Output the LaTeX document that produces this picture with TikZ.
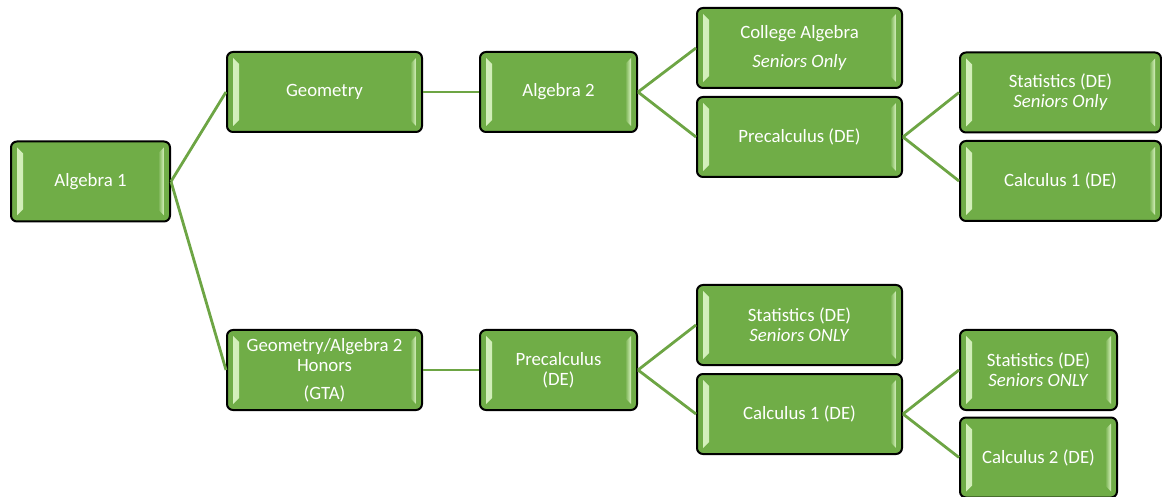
\documentclass[tikz,border=0pt]{standalone}
\usepackage{fontspec}
\setmainfont{Carlito}
\usepackage{tikz}
\definecolor{boxgreen}{HTML}{70AD47}
\definecolor{bevelgreen}{HTML}{D8F2C0}
\definecolor{linkgreen}{HTML}{6DA544}

\begin{document}
\begin{tikzpicture}[x=0.5pt, y=-0.5pt,
        course/.style={draw=black, line width=1pt, fill=boxgreen, rounded corners=3pt,
            minimum height=40pt, inner sep=2pt, text=white, align=center,
            font=\fontsize{9.4}{10}\selectfont,
            path picture={
                \fill[left color=bevelgreen, right color=boxgreen, rounded corners=0pt]
                    ([xshift=3pt,yshift=-3pt]path picture bounding box.north west) -- ++(3pt,-3pt)
                    -- ([xshift=6pt,yshift=6pt]path picture bounding box.south west) -- ++(-3pt,-3pt) -- cycle;
                \fill[right color=bevelgreen, left color=boxgreen, rounded corners=0pt]
                    ([xshift=-3pt,yshift=-3pt]path picture bounding box.north east) -- ++(-3pt,-3pt)
                    -- ([xshift=-6pt,yshift=6pt]path picture bounding box.south east) -- ++(3pt,-3pt) -- cycle;
            }},
        link/.style={draw=linkgreen, line width=1.4pt}]
        \useasboundingbox (0,0) rectangle (1162,497);

        % first column
        \node [course, minimum width=79.5pt] (alg1) at (90.5,181.5) {Algebra 1};

        % upper track
        \node [course, minimum width=97.5pt] (geo) at (324.5,92) {Geometry};
        \node [course, minimum width=78.5pt] (algtwo) at (558.5,92) {Algebra 2};
        \node [course, minimum width=102.5pt] (colalg) at (799.5,48) {College Algebra\\[4.5pt] \textit{Seniors Only}};
        \node [course, minimum width=102.5pt] (precalcA) at (799.5,137) {Precalculus (DE)};
        \node [course, minimum width=100.5pt] (statsA) at (1060.5,92.5) {Statistics (DE)\\ \textit{Seniors Only}};
        \node [course, minimum width=100.5pt] (calcA) at (1060.5,181) {Calculus 1 (DE)};

        % honors track
        \node [course, minimum width=97.5pt] (gta) at (324.5,370) {Geometry/Algebra 2\\ Honors\\[4pt] (GTA)};
        \node [course, minimum width=78.5pt] (precalcB) at (558.5,370) {Precalculus\\ (DE)};
        \node [course, minimum width=102.5pt] (statsB) at (799.5,325) {Statistics (DE)\\ \textit{Seniors ONLY}};
        \node [course, minimum width=102.5pt] (calcB) at (799.5,414) {Calculus 1 (DE)};
        \node [course, minimum width=78.5pt] (statsC) at (1038.5,370) {Statistics (DE)\\ \textit{Seniors ONLY}};
        \node [course, minimum width=78.5pt] (calctwo) at (1038.5,457.5) {Calculus 2 (DE)};

        \foreach \a/\b in {alg1/geo, alg1/gta, geo/algtwo, algtwo/colalg, algtwo/precalcA,
                precalcA/statsA, precalcA/calcA, gta/precalcB, precalcB/statsB, precalcB/calcB,
                calcB/statsC, calcB/calctwo} { \draw[link] (\a.east) -- (\b.west); }
    \end{tikzpicture}
\end{document}
